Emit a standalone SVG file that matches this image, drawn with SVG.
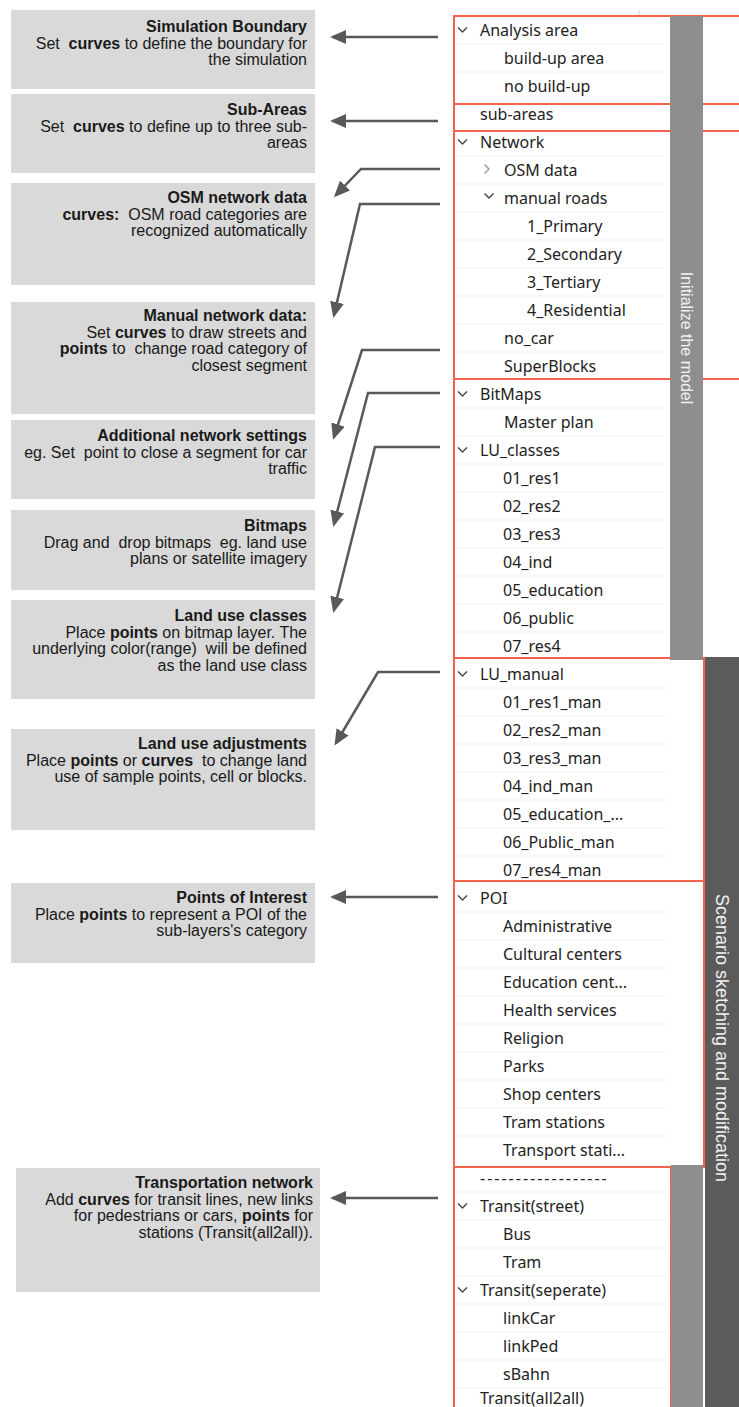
<svg xmlns="http://www.w3.org/2000/svg" width="739" height="1407" viewBox="0 0 739 1407">
<style>
.box{fill:#d9d9d9}
.bt{font-family:"Liberation Sans",Arial,Helvetica,sans-serif;font-size:16px;fill:#1a1a1a;text-anchor:end;white-space:pre}
.b{font-weight:bold}
.row{font-family:"Noto Sans","Open Sans",sans-serif;font-size:16px;fill:#222;white-space:pre}
.red{fill:none;stroke:#f4614d;stroke-width:2}
.conn{fill:none;stroke:#595959;stroke-width:2.5;marker-end:url(#ah)}
.chev{fill:none;stroke:#4a4a4a;stroke-width:1.5}
.chevr{fill:none;stroke:#a0a0a0;stroke-width:1.5}
.sep{stroke:#f1f1f1;stroke-width:1}
.bar{fill:#8e8e8e}
.dbar{fill:#5b5b5b}
.vt{font-family:"Liberation Sans",Arial,Helvetica,sans-serif;fill:#f2f2f2;text-anchor:middle}
</style>
<defs>
<marker id="ah" viewBox="0 0 16 14" markerWidth="16" markerHeight="14" refX="13" refY="7" orient="auto" markerUnits="userSpaceOnUse">
<path d="M0,0 L16,7 L0,14 z" fill="#595959"/>
</marker>
</defs>
<rect width="739" height="1407" fill="#ffffff"/>

<!-- left description nodes -->
<g id="n-simulation-boundary">
<rect class="box" x="11" y="10" width="304" height="79"/>
<text class="bt b" x="307" y="32">Simulation Boundary</text>
<text class="bt" x="307" y="48.5">Set  <tspan class="b">curves</tspan> to define the boundary for</text>
<text class="bt" x="307" y="65">the simulation</text>
</g>
<g id="n-sub-areas">
<rect class="box" x="11" y="94" width="304" height="79"/>
<text class="bt b" x="307" y="115">Sub-Areas</text>
<text class="bt" x="307" y="131.5">Set  <tspan class="b">curves</tspan> to define up to three sub-</text>
<text class="bt" x="307" y="148">areas</text>
</g>
<g id="n-osm">
<rect class="box" x="11" y="183" width="304" height="102"/>
<text class="bt b" x="307" y="203">OSM network data</text>
<text class="bt" x="307" y="219.5"><tspan class="b">curves:</tspan>  OSM road categories are</text>
<text class="bt" x="307" y="236">recognized automatically</text>
</g>
<g id="n-manual-network">
<rect class="box" x="11" y="302" width="304" height="112"/>
<text class="bt b" x="307" y="321">Manual network data:</text>
<text class="bt" x="307" y="337.5">Set <tspan class="b">curves</tspan> to draw streets and</text>
<text class="bt" x="307" y="354"><tspan class="b">points</tspan> to  change road category of</text>
<text class="bt" x="307" y="370.5">closest segment</text>
</g>
<g id="n-additional">
<rect class="box" x="11" y="420" width="304" height="79"/>
<text class="bt b" x="307" y="441">Additional network settings</text>
<text class="bt" x="307" y="457.5">eg. Set  point to close a segment for car</text>
<text class="bt" x="307" y="474">traffic</text>
</g>
<g id="n-bitmaps">
<rect class="box" x="11" y="510" width="304" height="80"/>
<text class="bt b" x="307" y="531">Bitmaps</text>
<text class="bt" x="307" y="547.5">Drag and  drop bitmaps  eg. land use</text>
<text class="bt" x="307" y="564">plans or satellite imagery</text>
</g>
<g id="n-lu-classes">
<rect class="box" x="11" y="600" width="304" height="99"/>
<text class="bt b" x="307" y="621">Land use classes</text>
<text class="bt" x="307" y="637.5">Place <tspan class="b">points</tspan> on bitmap layer. The</text>
<text class="bt" x="307" y="654">underlying color(range)  will be defined</text>
<text class="bt" x="307" y="670.5">as the land use class</text>
</g>
<g id="n-lu-adjust">
<rect class="box" x="11" y="729" width="304" height="101"/>
<text class="bt b" x="307" y="749">Land use adjustments</text>
<text class="bt" x="307" y="765.5">Place <tspan class="b">points</tspan> or <tspan class="b">curves</tspan>  to change land</text>
<text class="bt" x="307" y="782">use of sample points, cell or blocks.</text>
</g>
<g id="n-poi">
<rect class="box" x="11" y="883" width="304" height="80"/>
<text class="bt b" x="307" y="903">Points of Interest</text>
<text class="bt" x="307" y="919.5">Place <tspan class="b">points</tspan> to represent a POI of the</text>
<text class="bt" x="307" y="936">sub-layers's category</text>
</g>
<g id="n-transport">
<rect class="box" x="16" y="1168" width="304" height="124"/>
<text class="bt b" x="313" y="1188">Transportation network</text>
<text class="bt" x="313" y="1204.5">Add <tspan class="b">curves</tspan> for transit lines, new links</text>
<text class="bt" x="313" y="1221">for pedestrians or cars, <tspan class="b">points</tspan> for</text>
<text class="bt" x="313" y="1237.5">stations (Transit(all2all)).</text>
</g>

<!-- layer tree panel -->
<g id="tree-panel">
<line x1="639" y1="10" x2="639" y2="16" stroke="#d0d0d0" stroke-width="1"/>
<g id="row-separators">
<line class="sep" x1="456" y1="44" x2="666" y2="44"/><line class="sep" x1="456" y1="72" x2="666" y2="72"/><line class="sep" x1="456" y1="156" x2="666" y2="156"/><line class="sep" x1="456" y1="184" x2="666" y2="184"/><line class="sep" x1="456" y1="212" x2="666" y2="212"/><line class="sep" x1="456" y1="240" x2="666" y2="240"/><line class="sep" x1="456" y1="268" x2="666" y2="268"/><line class="sep" x1="456" y1="296" x2="666" y2="296"/><line class="sep" x1="456" y1="324" x2="666" y2="324"/><line class="sep" x1="456" y1="352" x2="666" y2="352"/><line class="sep" x1="456" y1="408" x2="666" y2="408"/><line class="sep" x1="456" y1="436" x2="666" y2="436"/><line class="sep" x1="456" y1="464" x2="666" y2="464"/><line class="sep" x1="456" y1="492" x2="666" y2="492"/><line class="sep" x1="456" y1="520" x2="666" y2="520"/><line class="sep" x1="456" y1="548" x2="666" y2="548"/><line class="sep" x1="456" y1="576" x2="666" y2="576"/><line class="sep" x1="456" y1="604" x2="666" y2="604"/><line class="sep" x1="456" y1="632" x2="666" y2="632"/><line class="sep" x1="456" y1="688" x2="666" y2="688"/><line class="sep" x1="456" y1="716" x2="666" y2="716"/><line class="sep" x1="456" y1="744" x2="666" y2="744"/><line class="sep" x1="456" y1="772" x2="666" y2="772"/><line class="sep" x1="456" y1="800" x2="666" y2="800"/><line class="sep" x1="456" y1="828" x2="666" y2="828"/><line class="sep" x1="456" y1="856" x2="666" y2="856"/><line class="sep" x1="456" y1="912" x2="666" y2="912"/><line class="sep" x1="456" y1="940" x2="666" y2="940"/><line class="sep" x1="456" y1="968" x2="666" y2="968"/><line class="sep" x1="456" y1="996" x2="666" y2="996"/><line class="sep" x1="456" y1="1024" x2="666" y2="1024"/><line class="sep" x1="456" y1="1052" x2="666" y2="1052"/><line class="sep" x1="456" y1="1080" x2="666" y2="1080"/><line class="sep" x1="456" y1="1108" x2="666" y2="1108"/><line class="sep" x1="456" y1="1136" x2="666" y2="1136"/><line class="sep" x1="456" y1="1192" x2="666" y2="1192"/><line class="sep" x1="456" y1="1220" x2="666" y2="1220"/><line class="sep" x1="456" y1="1248" x2="666" y2="1248"/><line class="sep" x1="456" y1="1276" x2="666" y2="1276"/><line class="sep" x1="456" y1="1304" x2="666" y2="1304"/><line class="sep" x1="456" y1="1332" x2="666" y2="1332"/><line class="sep" x1="456" y1="1360" x2="666" y2="1360"/><line class="sep" x1="456" y1="1388" x2="666" y2="1388"/>
</g>

<g id="sec-analysis">
<polyline class="chev" points="458,27.5 462.5,32 467,27.5"/>
<text class="row" x="480" y="36">Analysis area</text>
<text class="row" x="504" y="64">build-up area</text>
<text class="row" x="504" y="92">no build-up</text>
</g>
<g id="sec-subareas">
<text class="row" x="480" y="120">sub-areas</text>
</g>
<g id="sec-network">
<polyline class="chev" points="458,139.5 462.5,144 467,139.5"/>
<text class="row" x="480" y="148">Network</text>
<polyline class="chevr" points="484.5,164.5 489,169 484.5,173.5"/>
<text class="row" x="504" y="176">OSM data</text>
<polyline class="chev" points="484.5,193.5 489,198 493.5,193.5"/>
<text class="row" x="504" y="204">manual roads</text>
<text class="row" x="527" y="232">1_Primary</text>
<text class="row" x="527" y="260">2_Secondary</text>
<text class="row" x="527" y="288">3_Tertiary</text>
<text class="row" x="527" y="316">4_Residential</text>
<text class="row" x="504" y="344">no_car</text>
<text class="row" x="504" y="372">SuperBlocks</text>
</g>
<g id="sec-bitmaps-lu">
<polyline class="chev" points="458,391.5 462.5,396 467,391.5"/>
<text class="row" x="480" y="400">BitMaps</text>
<text class="row" x="504" y="428">Master plan</text>
<polyline class="chev" points="458,447.5 462.5,452 467,447.5"/>
<text class="row" x="480" y="456">LU_classes</text>
<text class="row" x="503" y="484">01_res1</text>
<text class="row" x="503" y="512">02_res2</text>
<text class="row" x="503" y="540">03_res3</text>
<text class="row" x="503" y="568">04_ind</text>
<text class="row" x="503" y="596">05_education</text>
<text class="row" x="503" y="624">06_public</text>
<text class="row" x="503" y="652">07_res4</text>
</g>
<g id="sec-lu-manual">
<polyline class="chev" points="458,671.5 462.5,676 467,671.5"/>
<text class="row" x="480" y="680">LU_manual</text>
<text class="row" x="503" y="708">01_res1_man</text>
<text class="row" x="503" y="736">02_res2_man</text>
<text class="row" x="503" y="764">03_res3_man</text>
<text class="row" x="503" y="792">04_ind_man</text>
<text class="row" x="503" y="820">05_education_...</text>
<text class="row" x="503" y="848">06_Public_man</text>
<text class="row" x="503" y="876">07_res4_man</text>
</g>
<g id="sec-poi">
<polyline class="chev" points="458,895.5 462.5,900 467,895.5"/>
<text class="row" x="480" y="904">POI</text>
<text class="row" x="503" y="932">Administrative</text>
<text class="row" x="503" y="960">Cultural centers</text>
<text class="row" x="503" y="988">Education cent...</text>
<text class="row" x="503" y="1016">Health services</text>
<text class="row" x="503" y="1044">Religion</text>
<text class="row" x="503" y="1072">Parks</text>
<text class="row" x="503" y="1100">Shop centers</text>
<text class="row" x="503" y="1128">Tram stations</text>
<text class="row" x="503" y="1156">Transport stati...</text>
</g>
<g id="sec-transit">
<text class="row" x="480" y="1184" letter-spacing="2">------------------</text>
<polyline class="chev" points="458,1203.5 462.5,1208 467,1203.5"/>
<text class="row" x="480" y="1212">Transit(street)</text>
<text class="row" x="503" y="1240">Bus</text>
<text class="row" x="503" y="1268">Tram</text>
<polyline class="chev" points="458,1287.5 462.5,1292 467,1287.5"/>
<text class="row" x="480" y="1296">Transit(seperate)</text>
<text class="row" x="503" y="1324">linkCar</text>
<text class="row" x="503" y="1352">linkPed</text>
<text class="row" x="503" y="1380">sBahn</text>
<text class="row" x="480" y="1404">Transit(all2all)</text>
</g>

<g id="red-frames">
<rect class="red" x="454" y="16" width="320" height="88"/>
<rect class="red" x="454" y="104" width="320" height="27"/>
<rect class="red" x="454" y="131" width="320" height="248"/>
<rect class="red" x="454" y="379" width="320" height="279"/>
<rect class="red" x="454" y="658" width="250" height="223"/>
<rect class="red" x="454" y="881" width="250" height="286"/>
<rect class="red" x="454" y="1167" width="217" height="260"/>
</g>

<g id="phase-bars">
<rect class="bar" x="670" y="16" width="33" height="644"/>
<text class="vt" font-size="16" transform="translate(686.5,338) rotate(90)" dy="0.35em">Initialize the model</text>
<rect class="bar" x="671" y="1165" width="32" height="242"/>
<rect class="dbar" x="705" y="657" width="34" height="750"/>
<text class="vt" font-size="18" transform="translate(722,1038) rotate(90)" dy="0.35em">Scenario sketching and modification</text>
</g>
</g>

<!-- connectors -->
<g id="connectors">
<line class="conn" x1="438" y1="37" x2="333" y2="37"/>
<line class="conn" x1="438" y1="121" x2="333" y2="121"/>
<polyline class="conn" points="440,169 361,169 336,195"/>
<polyline class="conn" points="440,204 360,204 334,315"/>
<polyline class="conn" points="440,350 362,350 334,437"/>
<polyline class="conn" points="440,393 368,393 334,524"/>
<polyline class="conn" points="440,447 375,447 334,610"/>
<polyline class="conn" points="440,672 378,672 336,743"/>
<line class="conn" x1="438" y1="897" x2="333" y2="897"/>
<line class="conn" x1="438" y1="1198" x2="333" y2="1198"/>
</g>
</svg>
